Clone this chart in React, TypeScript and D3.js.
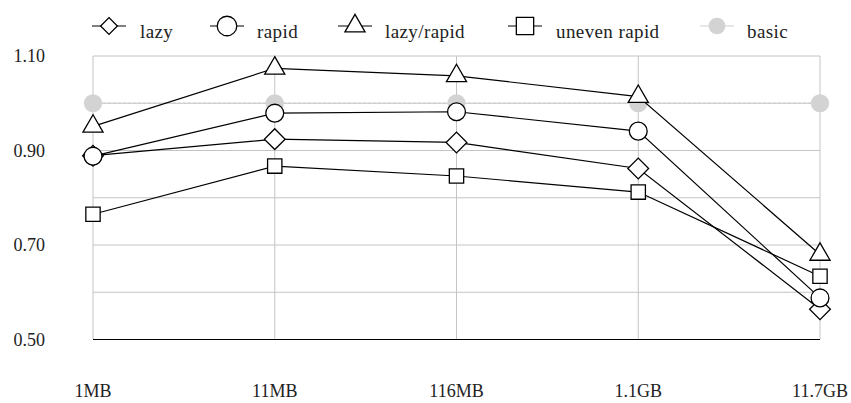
import * as d3 from 'd3';

const categories = ['1MB', '11MB', '116MB', '1.1GB', '11.7GB'];
const lazy = [0.889, 0.924, 0.917, 0.862, 0.564];
const rapid = [0.888, 0.979, 0.982, 0.941, 0.588];
const lazyRapid = [0.951, 1.074, 1.058, 1.014, 0.68];
const unevenRapid = [0.765, 0.867, 0.846, 0.812, 0.634];
const basic = [1.0, 1.0, 1.0, 1.0, 1.0];
const yTickLabels = [0.5, 0.7, 0.9, 1.1];
const yGridValues = [0.6, 0.7, 0.8, 0.9, 1.0, 1.1];

type Shape = 'diamond' | 'circle' | 'triangle' | 'square' | 'dot';

const series: { name: string; values: number[]; shape: Shape }[] = [
  { name: 'lazy', values: lazy, shape: 'diamond' },
  { name: 'rapid', values: rapid, shape: 'circle' },
  { name: 'lazy/rapid', values: lazyRapid, shape: 'triangle' },
  { name: 'uneven rapid', values: unevenRapid, shape: 'square' },
  { name: 'basic', values: basic, shape: 'dot' }
];

const legendPos = [
  { cx: 109, tx: 140 },
  { cx: 227, tx: 257 },
  { cx: 355, tx: 385 },
  { cx: 525, tx: 556 },
  { cx: 717, tx: 747 }
];

const x = d3.scalePoint<string>().domain(categories).range([93, 820]);
const y = d3.scaleLinear().domain([0.5, 1.1]).range([339.5, 56]);
const line = d3
  .line<number>()
  .x((_, i) => x(categories[i])!)
  .y((d) => y(d));

const textStyle = { fontFamily: 'Liberation Serif', fontSize: 18, fill: '#222' };

function markerPath(shape: Shape, legend: boolean) {
  if (shape === 'diamond') return d3.symbol(d3.symbolSquare, legend ? 140 : 215)();
  if (shape === 'circle') return d3.symbol(d3.symbolCircle, legend ? 300 : 250)();
  if (shape === 'triangle') return d3.symbol(d3.symbolTriangle, 175)();
  if (shape === 'square') return d3.symbol(d3.symbolSquare, legend ? 300 : 205)();
  return d3.symbol(d3.symbolCircle, legend ? 220 : 260)();
}

function Marker({ shape, cx, cy, legend = false }: { shape: Shape; cx: number; cy: number; legend?: boolean }) {
  const isDot = shape === 'dot';
  return (
    <path
      d={markerPath(shape, legend) ?? ''}
      transform={`translate(${cx},${cy})${shape === 'diamond' ? ' rotate(45)' : ''}`}
      fill={isDot ? '#d3d3d3' : '#fff'}
      stroke={isDot ? 'none' : '#000'}
      strokeWidth={1.3}
    />
  );
}

export default function App() {
  const ordered = [series[4], ...series.slice(0, 4)];
  return (
    <svg width={851} height={403} style={{ position: 'absolute', left: 0, top: 0, background: '#fff' }}>
      {yGridValues.map((v) => (
        <line key={v} x1={93} x2={820} y1={y(v)} y2={y(v)} stroke="#c4c4c4" strokeWidth={1} />
      ))}
      {categories.map((c) => (
        <line key={c} x1={x(c)} x2={x(c)} y1={y(1.1)} y2={y(0.5)} stroke="#c4c4c4" strokeWidth={1} />
      ))}
      <line x1={93} x2={820} y1={y(0.5)} y2={y(0.5)} stroke="#000" strokeWidth={1.2} />

      {yTickLabels.map((v) => (
        <text key={v} x={45} y={y(v)} dy="0.35em" textAnchor="end" style={textStyle}>
          {d3.format('.2f')(v)}
        </text>
      ))}
      {categories.map((c) => (
        <text key={c} x={x(c)} y={397} textAnchor="middle" style={textStyle}>
          {c}
        </text>
      ))}

      {ordered.map((s) => {
        const isDot = s.shape === 'dot';
        return (
          <g key={s.name}>
            <path
              d={line(s.values) ?? ''}
              fill="none"
              stroke={isDot ? '#cfcfcf' : '#000'}
              strokeWidth={isDot ? 1.3 : 1.2}
              strokeDasharray={isDot ? '3,2' : undefined}
            />
            {s.values.map((v, i) => (
              <Marker key={i} shape={s.shape} cx={x(categories[i])!} cy={y(v)} />
            ))}
          </g>
        );
      })}

      {series.map((s, i) => {
        const { cx, tx } = legendPos[i];
        const isDot = s.shape === 'dot';
        return (
          <g key={s.name}>
            <line x1={cx - 17} x2={cx + 17} y1={26} y2={26} stroke={isDot ? '#cfcfcf' : '#000'} strokeWidth={1.2} />
            <Marker shape={s.shape} cx={cx} cy={26} legend />
            <text x={tx} y={38} style={{ ...textStyle, fontSize: 19, letterSpacing: 0.4 }}>
              {s.name}
            </text>
          </g>
        );
      })}
    </svg>
  );
}
